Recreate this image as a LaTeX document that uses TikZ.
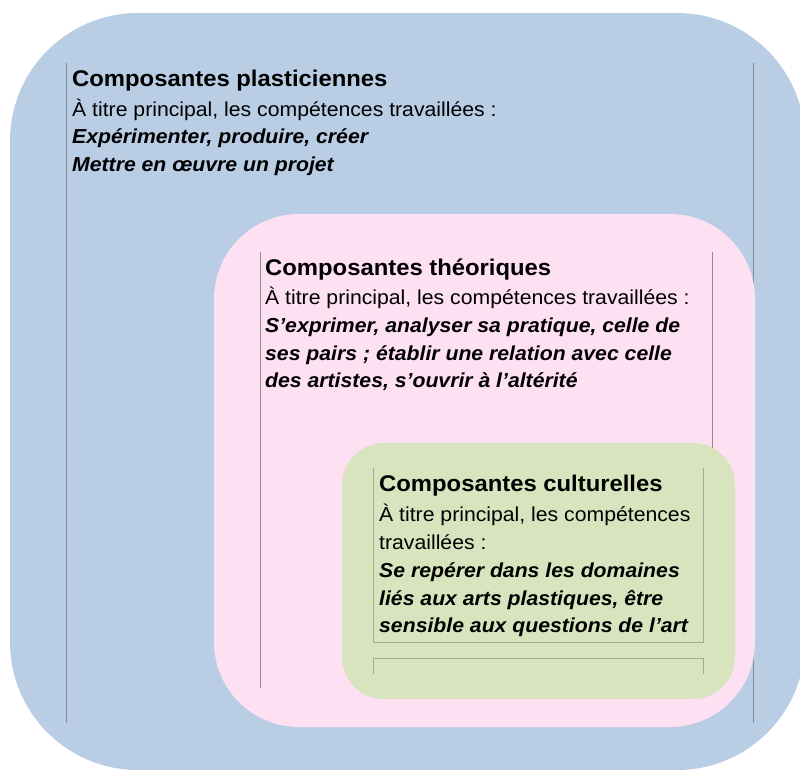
\documentclass[tikz,border=0pt]{standalone}
\usepackage{fontspec}
\setmainfont[FakeStretch=1.05]{Liberation Sans}
\definecolor{bluebg}{RGB}{185,205,228}
\definecolor{pinkbg}{RGB}{254,224,243}
\definecolor{greenbg}{RGB}{216,228,190}
\definecolor{frameline}{RGB}{135,140,150}
\definecolor{greenline}{RGB}{160,170,150}
\begin{document}
\begin{tikzpicture}[x=1pt,y=-1pt,
  ttl/.style={anchor=base west, inner sep=0pt, font=\fontsize{22.7}{26}\selectfont\bfseries},
  bdy/.style={anchor=base west, inner sep=0pt, font=\fontsize{20.2}{23}\selectfont},
  emp/.style={anchor=base west, inner sep=0pt, font=\fontsize{20.2}{23}\selectfont\bfseries\itshape},
  fr/.style={draw=frameline, line width=0.8pt},
  gfr/.style={draw=greenline, line width=0.8pt}]
\useasboundingbox (0,0) rectangle (800,769);
% blue box
\fill[bluebg, rounded corners=128pt] (10,13) rectangle (805,770);
\draw[fr] (66,63) -- (66,723);
\draw[fr] (753,63) -- (753,723);
% pink box
\fill[pinkbg, rounded corners=85pt] (214,214) rectangle (755,727);
\draw[fr] (260,252) -- (260,688);
\draw[fr] (712,252) -- (712,688);
% green box
\fill[greenbg, rounded corners=42pt] (342,443) rectangle (735,699);
\draw[gfr] (373,468) -- (373,642) -- (703,642) -- (703,468);
\draw[gfr] (373,674) -- (373,658) -- (703,658) -- (703,674);
% blue text
\node[ttl] (pt) at (72,86.7) {Composantes plasticiennes};
\node[bdy] (p1) at (72,116.7) {À titre principal, les compétences travaillées :};
\node[emp] (p2) at (72,143.8) {Expérimenter, produire, créer};
\node[emp] (p3) at (72,171) {Mettre en œuvre un projet};
% pink text
\node[ttl] (tt) at (265,275.7) {Composantes théoriques};
\node[bdy] (t1) at (265,304.3) {À titre principal, les compétences travaillées :};
\node[emp] (t2) at (265,332.3) {S’exprimer, analyser sa pratique, celle de};
\node[emp] (t3) at (265,360) {ses pairs ; établir une relation avec celle};
\node[emp] (t4) at (265,387.6) {des artistes, s’ouvrir à l’altérité};
% green text
\node[ttl] (ct) at (379,491.7) {Composantes culturelles};
\node[bdy] (c1) at (379,521) {À titre principal, les compétences};
\node[bdy] (c2) at (379,549.3) {travaillées :};
\node[emp] (c3) at (379,577.3) {Se repérer dans les domaines};
\node[emp] (c4) at (379,605) {liés aux arts plastiques, être};
\node[emp] (c5) at (379,632.7) {sensible aux questions de l’art};
\end{tikzpicture}
\end{document}
